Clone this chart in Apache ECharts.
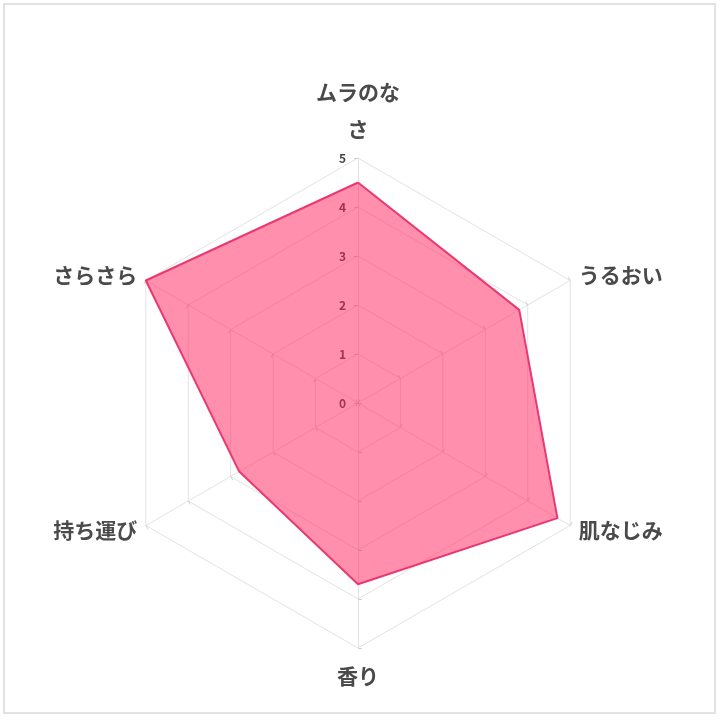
<!DOCTYPE html>
<html><head><meta charset="utf-8">
<script src="https://cdn.jsdelivr.net/npm/echarts@6/dist/echarts.min.js"></script>
<style>html,body{margin:0;padding:0;background:#fff}#c{width:720px;height:720px}</style>
</head><body><div id="c"></div>
<script>
// clockwise from top
const categories = ['ムラのなさ', 'うるおい', '肌なじみ', '香り', '持ち運び', 'さらさら'];
const values = [4.5, 3.8, 4.7, 3.7, 2.8, 5.0];
const tickLabels = ['0', '1', '2', '3', '4', '5'];
const maxValue = 5;

// ECharts radar runs counter-clockwise: reorder
const order = [0, 5, 4, 3, 2, 1];
const indicator = order.map(i => ({ name: categories[i], max: maxValue, min: 0 }));
const seriesValues = order.map(i => values[i]);

const chart = echarts.init(document.getElementById('c'));
chart.setOption({
  backgroundColor: '#fff',
  animation: false,
  graphic: [{
    type: 'rect', shape: { x: 4, y: 4, width: 711, height: 709 },
    style: { fill: 'none', stroke: '#e2e2e2', lineWidth: 2 }, z: -1
  }],
  polar: { center: [358, 403], radius: 245 },
  angleAxis: { show: false, startAngle: 90, min: 0, max: 360 },
  radiusAxis: {
    min: 0, max: maxValue, interval: 1,
    axisLine: { show: false }, axisTick: { show: false }, splitLine: { show: false },
    axisLabel: {
      show: true, margin: 12, color: '#444', fontSize: 12, fontWeight: 'bold',
      fontFamily: 'Noto Sans CJK JP',
      formatter: v => tickLabels[Math.round(v)]
    },
    z: 0
  },
  radar: {
    center: [358, 403],
    radius: 245,
    startAngle: 90,
    shape: 'polygon',
    splitNumber: 5,
    indicator: indicator,
    axisName: {
      color: '#4a4a4a', fontSize: 21, fontWeight: 'bold',
      fontFamily: 'Noto Sans CJK JP', lineHeight: 37,
      formatter: name => name.length > 4 ? name.slice(0, 4) + '\n' + name.slice(4) : name
    },
    nameGap: 10,
    splitLine: { lineStyle: { color: '#e3e3e3', width: 1 } },
    splitArea: { show: false },
    axisLine: { lineStyle: { color: '#e3e3e3', width: 1 } },
    axisTick: { show: true, length: 4, lineStyle: { color: '#cfcfcf' } },
    minorTick: { show: true, splitNumber: 5, length: 4, lineStyle: { color: '#cfcfcf' } },
    axisLabel: { show: false }
  },
  series: [{
    type: 'radar',
    z: 3,
    symbol: 'none',
    data: [{
      value: seriesValues,
      lineStyle: { color: '#E2427A', width: 2 },
      areaStyle: { color: '#FF1F59', opacity: 0.5 }
    }]
  }]
});
</script></body></html>
